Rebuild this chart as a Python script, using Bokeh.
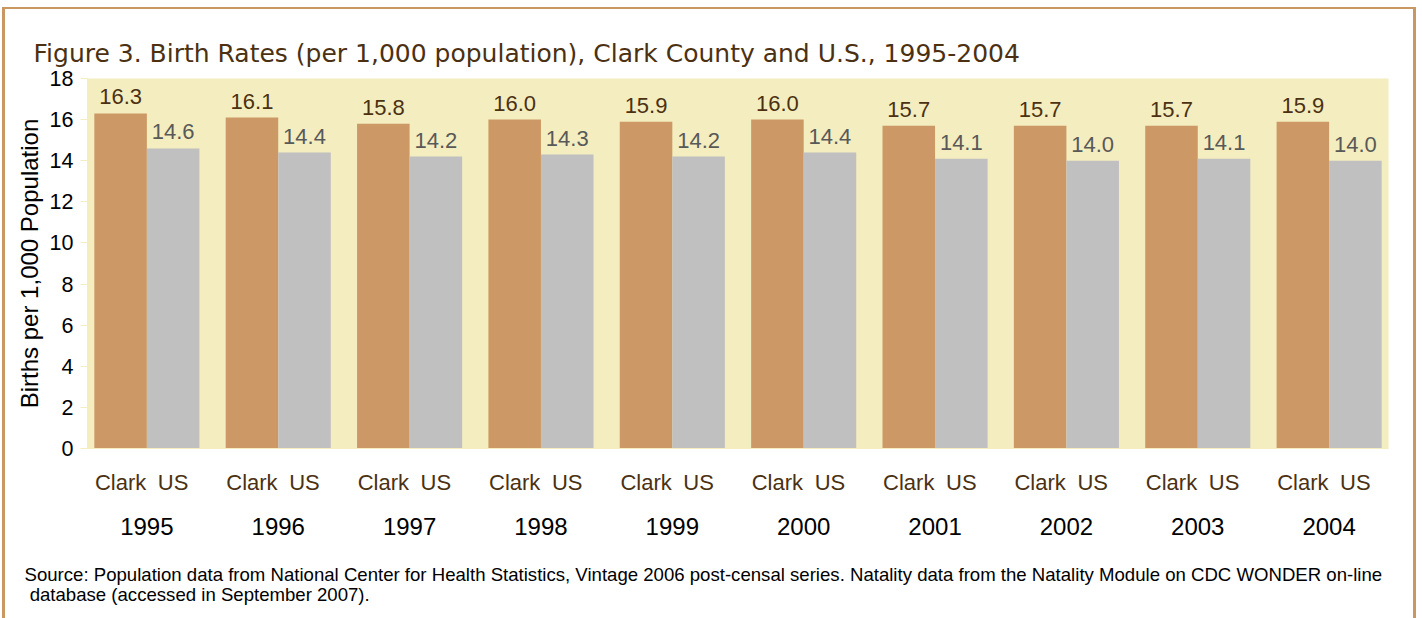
from bokeh.plotting import figure
from bokeh.models import (FactorRange, Range1d, CategoricalAxis, ColumnDataSource,
                          LabelSet, Title, FixedTicker)
from bokeh.core.properties import value
from bokeh.embed import file_html
from bokeh.resources import INLINE

# ---------------- data ----------------
years = ["1995", "1996", "1997", "1998", "1999", "2000", "2001", "2002", "2003", "2004"]
series = ["Clark", "US"]
clark_rate = [16.3, 16.1, 15.8, 16.0, 15.9, 16.0, 15.7, 15.7, 15.7, 15.9]
us_rate = [14.6, 14.4, 14.2, 14.3, 14.2, 14.4, 14.1, 14.0, 14.1, 14.0]
y_ticks = [0, 2, 4, 6, 8, 10, 12, 14, 16, 18]

title_text = "Figure 3. Birth Rates (per 1,000 population), Clark County and U.S., 1995-2004"
y_label = "Births per 1,000 Population"
source_text = ("Source: Population data from National Center for Health Statistics, Vintage 2006 "
               "post-censal series. Natality data from the Natality Module on CDC WONDER on-line\n"
               "\u00a0database (accessed in September 2007).")

# ---------------- styles ----------------
FONT = "Liberation Sans"
TAN = "#CC9966"
GREY = "#C0C0C0"
CREAM = "#F3EDBF"
BROWN = "#4B3112"
LABEL_GREY = "#595959"
FRAME = "#C99762"

x_range = FactorRange(factors=[(y, s) for y in years for s in series],
                      factor_padding=0, group_padding=0.5,
                      range_padding=0.13, range_padding_units="absolute")

p = figure(x_range=x_range, y_range=Range1d(0, 18),
           frame_width=1301, frame_height=370,
           output_backend="svg", toolbar_location=None,
           min_border_left=82, min_border_right=25,
           min_border_top=69, min_border_bottom=160)

p.background_fill_color = CREAM
p.border_fill_color = "white"
p.outline_line_color = None
p.xgrid.visible = False
p.ygrid.visible = False

# bars
clark_src = ColumnDataSource(dict(x=[(y, "Clark") for y in years], top=clark_rate,
                                  lab=[f"{v:.1f}" for v in clark_rate]))
us_src = ColumnDataSource(dict(x=[(y, "US") for y in years], top=us_rate,
                               lab=[f"{v:.1f}" for v in us_rate]))
p.vbar(x="x", top="top", width=1.0, source=clark_src, fill_color=TAN, line_color=None)
p.vbar(x="x", top="top", width=1.0, source=us_src, fill_color=GREY, line_color=None)

p.add_layout(LabelSet(x="x", y="top", text="lab", source=clark_src, y_offset=9,
                      text_align="center", text_baseline="alphabetic",
                      text_font=value(FONT), text_font_size="22px", text_color=BROWN))
p.add_layout(LabelSet(x="x", y="top", text="lab", source=us_src, y_offset=9,
                      text_align="center", text_baseline="alphabetic",
                      text_font=value(FONT), text_font_size="22px", text_color=LABEL_GREY))

# y axis
ya = p.yaxis[0]
ya.ticker = FixedTicker(ticks=y_ticks)
ya.minor_tick_line_color = None
ya.major_tick_in = 0
ya.major_tick_out = 7
ya.major_tick_line_color = CREAM
ya.axis_line_color = CREAM
ya.major_label_standoff = 7
ya.major_label_text_font = FONT
ya.major_label_text_font_size = "21.5px"
ya.major_label_text_color = "black"
ya.axis_label = y_label
ya.axis_label_text_font = FONT
ya.axis_label_text_font_size = "24px"
ya.axis_label_text_font_style = "normal"
ya.axis_label_text_color = "black"
ya.axis_label_standoff = 4

# x axis: series names
xa = p.xaxis[0]
xa.axis_line_color = CREAM
xa.major_tick_line_color = None
xa.major_tick_out = 0
xa.major_tick_in = 0
xa.minor_tick_line_color = None
xa.separator_line_color = None
xa.major_label_standoff = 21
xa.major_label_text_font = FONT
xa.major_label_text_font_size = "22px"
xa.major_label_text_color = BROWN
xa.group_text_color = None

# x axis: years
p.extra_x_ranges = {"years": FactorRange(factors=years, factor_padding=0.5,
                                         range_padding=0.178, range_padding_units="absolute")}
year_axis = CategoricalAxis(x_range_name="years")
year_axis.axis_line_color = None
year_axis.major_tick_line_color = None
year_axis.major_tick_out = 0
year_axis.major_tick_in = 0
year_axis.major_label_standoff = 20
year_axis.major_label_text_font = FONT
year_axis.major_label_text_font_size = "24px"
year_axis.major_label_text_color = "black"
p.add_layout(year_axis, "below")

# titles
p.title = Title(text=title_text, align="left", offset=-54, standoff=21,
                text_font="DejaVu Sans", text_font_size="25px",
                text_font_style="normal", text_color=BROWN)

src_title = Title(text=source_text, align="left", offset=-63, standoff=53,
                  vertical_align="top",
                  text_font=FONT, text_font_size="18.6px", text_font_style="normal",
                  text_color="black", text_line_height=0.97)
p.add_layout(src_title, "below")

p.styles = {"margin-left": "2px", "margin-top": "7px",
            "border-left": f"3px solid {FRAME}", "border-top": f"2px solid {FRAME}",
            "border-right": f"3px solid {FRAME}"}

open("out.html", "w").write(file_html(p, INLINE))
